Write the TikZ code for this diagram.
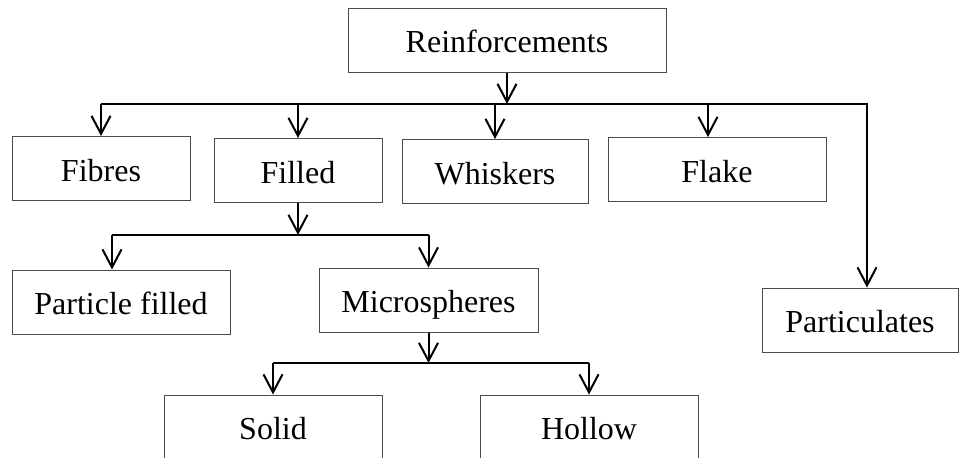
\documentclass[tikz,border=0pt]{standalone}
\usepackage{fontspec}
\setmainfont{Liberation Serif}
\usetikzlibrary{arrows.meta}

\tikzset{
  box/.style={draw=black!70, line width=0.5pt, minimum height=32pt, inner sep=0pt,
    text height=14pt, text depth=1.5pt, font=\fontsize{16}{19}\selectfont},
  link/.style={line width=1pt, -{Straight Barb[length=9pt,width=9.5pt]}},
  bus/.style={line width=1pt}
}

\begin{document}
\begin{tikzpicture}[x=0.5pt,y=0.5pt,yscale=-1,xscale=1]

\useasboundingbox (0,0) rectangle (960,457);
\clip (0,0) rectangle (960,457);

% Boxes
\node[box, minimum width=159pt] (reinf) at (507,40) {Reinforcements};
\node[box, minimum width=89pt] (fibres) at (101,168.5) {Fibres};
\node[box, minimum width=84pt] (filled) at (298,170.5) {Filled};
\node[box, minimum width=93pt] (whisk) at (495,171.5) {Whiskers};
\node[box, minimum width=109pt] (flake) at (717,169.5) {Flake};
\node[box, minimum width=109pt] (partfill) at (121,302) {Particle filled};
\node[box, minimum width=109.5pt] (micro) at (428.5,300) {Microspheres};
\node[box, minimum width=98pt] (partic) at (860,320) {Particulates};
\node[box, minimum width=109pt] (solid) at (273,427) {Solid};
\node[box, minimum width=109pt] (hollow) at (589,427) {Hollow};

% Bus levels
\coordinate (busA) at (0,104);
\coordinate (busB) at (0,235);
\coordinate (busC) at (0,363);

% First level
\draw[link] (reinf.south) -- (reinf.south |- busA);
\draw[link] (fibres.north |- busA) -- ([xshift=3.5pt]partic.north |- busA) -- ([xshift=3.5pt]partic.north);
\foreach \n in {fibres, filled, whisk}
  \draw[link] (\n.north |- busA) -- (\n.north);
\draw[link] ([xshift=-4.5pt]flake.north |- busA) -- ([xshift=-4.5pt]flake.north);

% Filled
\draw[link] (filled.south) -- (filled.south |- busB);
\draw[bus] ([xshift=-4.5pt]partfill.north |- busB) -- (micro.north |- busB);
\draw[link] ([xshift=-4.5pt]partfill.north |- busB) -- ([xshift=-4.5pt]partfill.north);
\draw[link] (micro.north |- busB) -- (micro.north);

% Microspheres
\draw[link] (micro.south) -- (micro.south |- busC);
\draw[bus] (solid.north |- busC) -- (hollow.north |- busC);
\foreach \n in {solid, hollow}
  \draw[link] (\n.north |- busC) -- (\n.north);

\end{tikzpicture}
\end{document}
